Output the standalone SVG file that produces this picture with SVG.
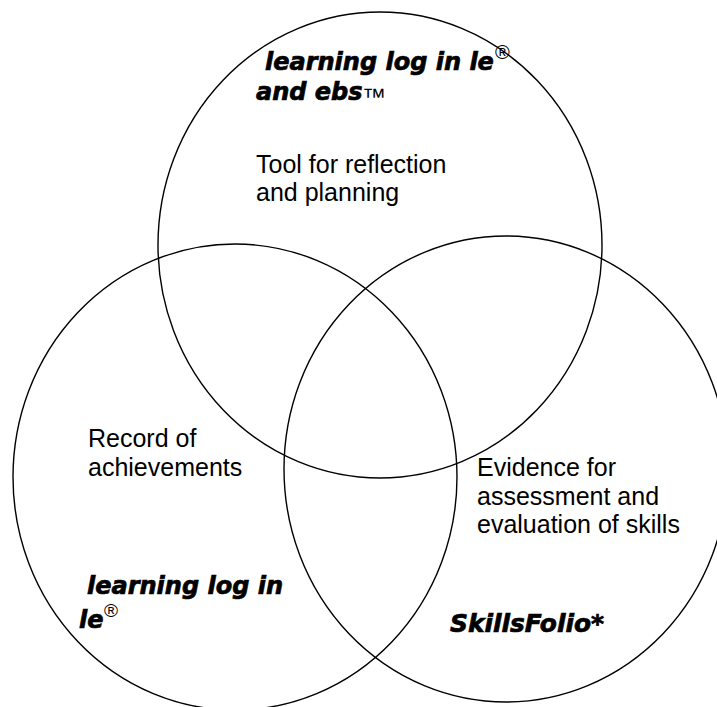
<svg xmlns="http://www.w3.org/2000/svg" width="717" height="707" viewBox="0 0 717 707">
<style>
.c{fill:none;stroke:#000;stroke-width:1.4}
.t{font-family:"Liberation Sans",Arial,sans-serif;font-size:25px;fill:#000}
.b{font-family:"DejaVu Sans","Liberation Sans",sans-serif;font-weight:bold;font-style:italic;font-size:24px;fill:#000;stroke:#000;stroke-width:0.7}
.s{font-family:"Liberation Sans",Arial,sans-serif;fill:#000}
</style>
<rect width="717" height="707" fill="#fff"/>
<g id="circle-top">
<ellipse class="c" cx="380" cy="245" rx="222" ry="233"/>
<text class="b" x="265" y="70">learning log in le</text>
<text class="s" x="495" y="59" font-size="20">®</text>
<text class="b" x="256" y="100">and ebs</text>
<text class="s" x="362" y="105" font-size="24">™</text>
<text class="t" x="256" y="173">Tool for reflection</text>
<text class="t" x="256" y="201">and planning</text>
</g>
<g id="circle-left">
<ellipse class="c" cx="235" cy="477" rx="222" ry="233"/>
<text class="t" x="88" y="447">Record of</text>
<text class="t" x="88" y="476">achievements</text>
<text class="b" x="87" y="594">learning log in</text>
<text class="b" x="79" y="628">le</text>
<text class="s" x="104" y="617" font-size="19">®</text>
</g>
<g id="circle-right">
<ellipse class="c" cx="506" cy="469" rx="222" ry="233"/>
<text class="t" x="477" y="476">Evidence for</text>
<text class="t" x="477" y="505">assessment and</text>
<text class="t" x="477" y="533">evaluation of skills</text>
<text class="b" x="450" y="632" textLength="154" lengthAdjust="spacingAndGlyphs">SkillsFolio*</text>
</g>
<g id="connectors"></g>
</svg>
